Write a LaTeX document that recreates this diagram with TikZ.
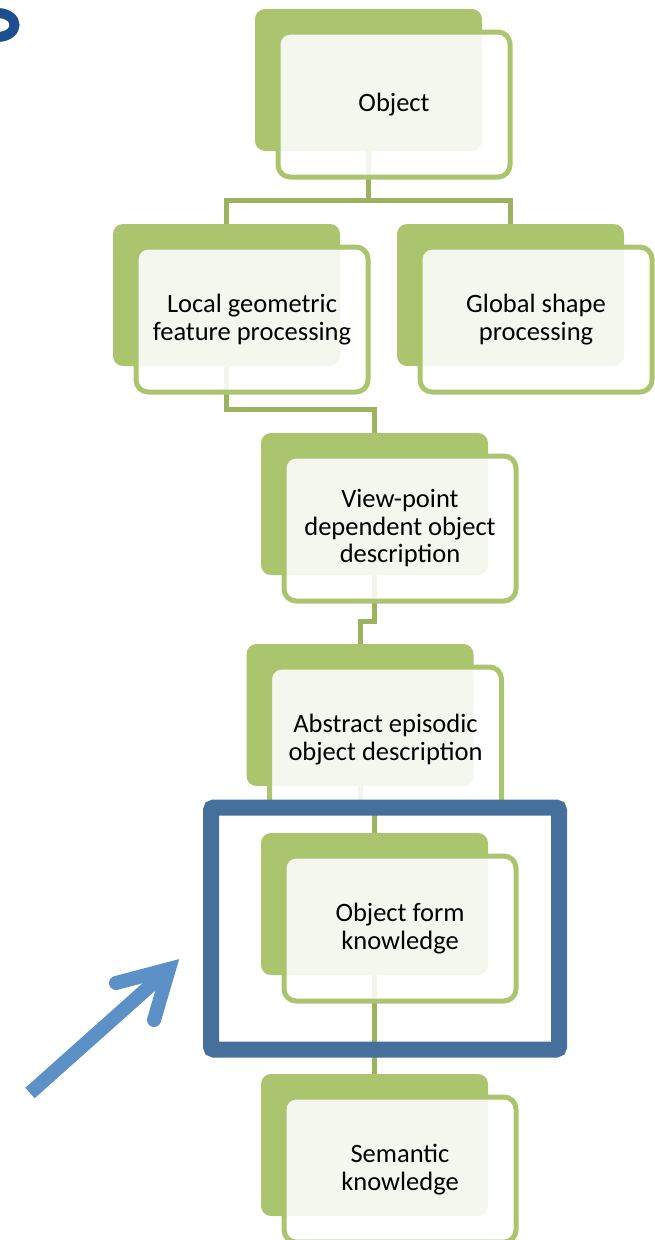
\documentclass[tikz,border=0pt]{standalone}
\usepackage{fontspec}
\setmainfont{Carlito}
\usetikzlibrary{calc}
\definecolor{gfill}{HTML}{ABC46E}
\definecolor{gline}{HTML}{ABC46E}
\definecolor{cline}{HTML}{9BB35E}
\definecolor{focusblue}{HTML}{46709C}
\definecolor{arrowblue}{HTML}{5B91C6}
\definecolor{titleblue}{HTML}{1E4E8F}
\tikzset{
  gbox/.style={fill=gfill, rounded corners=10pt, minimum width=227pt, minimum height=142pt, inner sep=0pt},
  fbox/.style={draw=gline, line width=5pt, fill=white, fill opacity=0.88, text opacity=1,
    rounded corners=12pt, minimum width=232pt, minimum height=145pt, inner sep=0pt,
    align=center, font=\fontsize{26.5}{27.5}\selectfont},
  conn/.style={draw=cline, line width=5pt},
  focus/.style={draw=focusblue, line width=16pt, rounded corners=3pt, minimum width=348pt, minimum height=242pt, inner sep=0pt},
  bluearrow/.style={draw=arrowblue, line width=14pt}
}
\begin{document}
\begin{tikzpicture}[x=1pt,y=-1pt]
\useasboundingbox (0,0) rectangle (655,1240);
% title fragment
\draw[titleblue, line width=10pt] (-2,13) .. controls (20,14) and (20,36) .. (-2,37);
% back boxes
\node[gbox] (g1) at (368.5,80) {};
\node[gbox] (g2) at (226.5,295) {};
\node[gbox] (g3) at (510.5,295) {};
\node[gbox] (g4) at (374.5,504) {};
\node[gbox] (g5) at (360,715) {};
\node[gbox] (g6) at (374.5,904) {};
\node[gbox] (g7) at (374.5,1145) {};
% connectors
\coordinate (j1) at (368.5,200);
\draw[conn] (g1.south) -- (j1);
\draw[conn] (g2.north) |- (j1) -| (g3.north);
\draw[conn] (g2.south) -- ++(0,43) -| (g4.north);
\draw[conn] (g4.south) -- ++(0,46) -| (g5.north);
\draw[conn] (g5.south) -- ++(0,22) -| (g6.north);
\draw[conn] (g6.south) -- (g7.north);
% front boxes
\node[fbox] (f1) at ($(g1)+(25.5,24.5)$) {Object};
\node[fbox] (f2) at ($(g2)+(25.5,24.5)$) {Local geometric\\feature processing};
\node[fbox] (f3) at ($(g3)+(25.5,24.5)$) {Global shape\\processing};
\node[fbox] (f4) at ($(g4)+(25.5,24.5)$) {View-point\\dependent object\\description};
\node[fbox] (f5) at ($(g5)+(25.5,24.5)$) {Abstract episodic\\object description};
\node[fbox] (f6) at ($(g6)+(25.5,24.5)$) {Object form\\knowledge};
\node[fbox] (f7) at ($(g7)+(25.5,24.5)$) {Semantic\\knowledge};
% focus frame
\node[focus] (focus) at (385,928.5) {};
% pointing arrow
\coordinate (atail) at (30,1093);
\coordinate (atip) at (169,969);
\coordinate (arm1) at (116,983);
\coordinate (arm2) at (154,1020);
\draw[bluearrow] (atail) -- (atip);
\draw[bluearrow, line cap=round, line join=miter] (arm1) -- (atip) -- (arm2);
\end{tikzpicture}
\end{document}
